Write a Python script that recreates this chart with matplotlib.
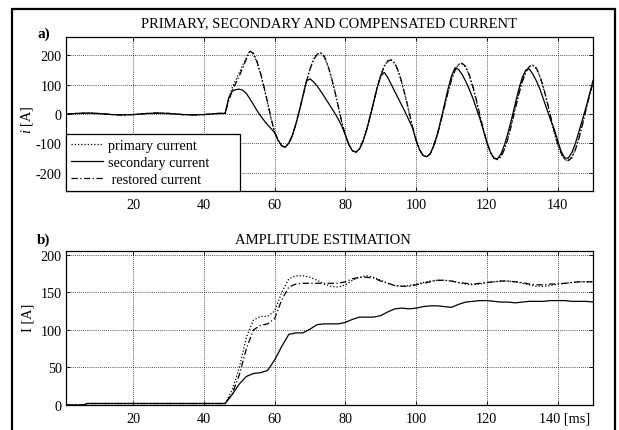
"""
plot.py
-------
Primary / secondary / compensated current and amplitude estimation
(two stacked panels, Times-like fonts, dotted grid, boxed figure).

Output: out.png
"""

import numpy as np
import matplotlib
matplotlib.use("Agg")
import matplotlib.pyplot as plt
from matplotlib.patches import Rectangle

OUTPUT = "out.png"

# ── Data: panel a) instantaneous currents, 1 ms samples ───────────────────────
t_ms = np.arange(1, 151)

# pre-fault load current (t = 1..45 ms), same for all three signals
prefault = [-1, 0, 1, 2, 2, 3, 3, 3, 2, 2, 1, 0, -1, -2, -2, -3, -3, -3, -2, -2,
            -1, 0, 1, 2, 2, 3, 3, 3, 2, 2, 1, 0, -1, -2, -2, -3, -3, -3, -2, -2,
            -1, 0, 1, 2, 2]

# t = 46..150 ms
primary_fault = [
    3, 50, 90, 116, 141, 167, 192, 217, 204, 176, 137, 89, 37, -18, -62,
    -90, -109, -113, -100, -73, -34, 12, 63, 113, 155, 187, 205, 208, 195, 165,
    125, 76, 24, -30, -72, -105, -126, -130, -119, -92, -54, -8, 42, 91, 133,
    164, 182, 184, 171, 143, 103, 56, 4, -47, -90, -123, -142, -146, -135, -107,
    -69, -22, 28, 77, 120, 151, 170, 172, 160, 131, 92, 45, -7, -57, -100,
    -132, -152, -155, -143, -116, -77, -30, 21, 70, 113, 145, 163, 166, 154, 126,
    87, 40, -12, -62, -105, -137, -156, -159, -147, -119, -80, -33, 18, 67, 110]

secondary_fault = [
    2, 55, 78, 83, 85, 81, 70, 52, 32, 12, -6, -22, -37, -50, -64,
    -90, -109, -113, -100, -73, -34, 12, 63, 113, 120, 110, 96, 78, 60, 41,
    22, 3, -18, -42, -72, -105, -126, -130, -119, -92, -54, -8, 42, 91, 130,
    142, 124, 100, 76, 52, 28, 4, -22, -48, -90, -123, -142, -146, -135, -107,
    -69, -20, 32, 85, 130, 158, 152, 135, 112, 85, 55, 20, -15, -55, -97,
    -131, -151, -153, -136, -104, -63, -16, 34, 84, 125, 150, 154, 136, 113, 85,
    50, 14, -20, -50, -90, -128, -150, -151, -132, -101, -61, -20, 22, 66, 115]

restored_fault = [
    3, 45, 80, 105, 130, 158, 188, 214, 208, 180, 140, 92, 40, -15, -62,
    -90, -109, -113, -100, -73, -34, 12, 62, 112, 153, 186, 204, 209, 198, 168,
    128, 79, 26, -28, -72, -105, -126, -130, -119, -92, -54, -8, 42, 91, 132,
    163, 181, 185, 173, 146, 106, 59, 7, -45, -90, -123, -142, -146, -136, -109,
    -71, -25, 25, 74, 117, 149, 169, 173, 163, 135, 96, 50, -2, -52, -96,
    -129, -150, -156, -146, -120, -82, -35, 16, 66, 110, 143, 162, 167, 157, 130,
    91, 45, -7, -58, -101, -134, -154, -159, -150, -123, -85, -38, 13, 62, 107]

primary = prefault + primary_fault
secondary = prefault + secondary_fault
restored = prefault + restored_fault

# ── Data: panel b) amplitude estimates ────────────────────────────────────────
t_amp = [1, 6, 7, 46] + list(range(48, 151, 2))

amp_primary = [
    0, 0, 2, 2, 20, 50, 90, 113, 118, 118, 125, 150, 168, 172, 172, 170,
    166, 161, 158, 157, 160, 166, 170, 172, 170, 166, 162, 159, 158, 159,
    161, 163, 165, 166, 166, 165, 163, 161, 160, 161, 163, 164, 165, 165,
    164, 162, 160, 158, 158, 159, 161, 162, 163, 164, 164, 164]

amp_secondary = [
    0, 0, 2, 2, 14, 28, 38, 42, 43, 46, 60, 78, 94, 96, 96, 101,
    107, 108, 108, 108, 110, 114, 117, 117, 117, 119, 124, 128, 129, 128,
    129, 131, 132, 132, 131, 130, 134, 137, 138, 139, 139, 138, 137, 137,
    136, 137, 138, 138, 138, 139, 139, 139, 138, 138, 138, 137]

amp_restored = [
    0, 0, 2, 2, 15, 40, 75, 100, 106, 108, 115, 140, 157, 161, 162, 162,
    162, 162, 162, 162, 164, 168, 170, 170, 169, 165, 162, 159, 158, 158,
    160, 162, 164, 166, 166, 165, 163, 162, 161, 162, 163, 164, 165, 165,
    164, 163, 161, 160, 160, 161, 161, 162, 163, 164, 164, 164]

X_TICKS = [20, 40, 60, 80, 100, 120, 140]

# ── Styles ─────────────────────────────────────────────────────────────────────
DOTTED = (0, (1.0, 1.6))
DASHDOT = (0, (5.0, 2.0, 1.0, 2.0))
LW = 0.9
FS = 10.3

plt.rcParams['font.family'] = 'serif'
plt.rcParams['font.serif'] = ['Liberation Serif', 'DejaVu Serif']
plt.rcParams['mathtext.fontset'] = 'custom'
plt.rcParams['mathtext.rm'] = 'Liberation Serif'
plt.rcParams['mathtext.it'] = 'Liberation Serif:italic'
plt.rcParams['axes.unicode_minus'] = False


def style_axes(ax):
    ax.set_xlim(1, 150)
    ax.set_xticks(X_TICKS)
    ax.grid(True, color='0.1', linestyle=(0, (1, 1.5)), linewidth=0.6)
    ax.set_axisbelow(True)
    ax.tick_params(direction='in', length=3, width=0.6, labelsize=FS,
                   top=True, right=True)
    ax.tick_params(axis='x', pad=5)
    ax.tick_params(axis='y', pad=3)
    for sp in ax.spines.values():
        sp.set_linewidth(0.9)


def main():
    fig = plt.figure(figsize=(6.19, 4.31), dpi=100)

    # outer frame
    fig.add_artist(Rectangle((11.5 / 619, -0.05), (615 - 11.5) / 619,
                             1.05 - 9.5 / 431, transform=fig.transFigure,
                             fill=False, edgecolor='black', linewidth=1.6))

    ax1 = fig.add_axes([0.1066, 0.5545, 0.8514, 0.3573])
    ax2 = fig.add_axes([0.1066, 0.0580, 0.8514, 0.3573])

    # ── a) currents ───────────────────────────────────────────────────────────
    ax1.plot(t_ms, primary, color='black', linestyle=DOTTED, lw=LW,
             label='primary current')
    ax1.plot(t_ms, secondary, color='black', linestyle='-', lw=LW,
             label='secondary current')
    ax1.plot(t_ms, restored, color='black', linestyle=DASHDOT, lw=LW,
             label=' restored current')
    style_axes(ax1)
    ax1.set_ylim(-263, 263)
    ax1.set_yticks([-200, -100, 0, 100, 200])
    ax1.set_ylabel(r'$i$ [A]', fontsize=FS)
    ax1.yaxis.set_label_coords(-0.059, 0.47)
    ax1.set_title('PRIMARY, SECONDARY AND COMPENSATED CURRENT',
                  fontsize=10.5, pad=8)
    fig.text(37 / 619, 1 - 37.5 / 431, 'a)', fontsize=11, fontweight='bold',
             va='baseline', ha='left')

    # legend box is wider than its text in the original
    leg = ax1.legend(loc='lower left', bbox_to_anchor=(0, 0, 0.33, 0.4),
                     mode='expand', borderaxespad=0, fancybox=False,
                     framealpha=1, edgecolor='black', fontsize=FS,
                     handlelength=2.2, handletextpad=0.35,
                     labelspacing=0.25, borderpad=0.38)
    leg.get_frame().set_linewidth(0.9)

    # ── b) amplitude estimation ───────────────────────────────────────────────
    ax2.plot(t_amp, amp_primary, color='black', linestyle=DOTTED, lw=LW)
    ax2.plot(t_amp, amp_secondary, color='black', linestyle='-', lw=LW)
    ax2.plot(t_amp, amp_restored, color='black', linestyle=DASHDOT, lw=LW)
    style_axes(ax2)
    ax2.set_ylim(0, 205)
    ax2.set_yticks([0, 50, 100, 150, 200])
    ax2.set_xticklabels(['20', '40', '60', '80', '100', '120', ''])
    ax2.set_ylabel('I [A]', fontsize=FS)
    ax2.yaxis.set_label_coords(-0.059, 0.57)
    ax2.text(0.487, 1.055, 'AMPLITUDE ESTIMATION', transform=ax2.transAxes,
             ha='center', va='baseline', fontsize=10.5)
    fig.text(37 / 619, 1 - 244 / 431, 'b)', fontsize=11, fontweight='bold',
             va='baseline', ha='left')
    # last tick label carries the time unit
    ax2.annotate('140 [ms]', xy=(140, 0), xycoords=('data', 'axes fraction'),
                 xytext=(-13.5, -5), textcoords='offset points',
                 ha='left', va='top', fontsize=FS)

    fig.savefig(OUTPUT, dpi=100)
    plt.close(fig)


if __name__ == "__main__":
    main()
